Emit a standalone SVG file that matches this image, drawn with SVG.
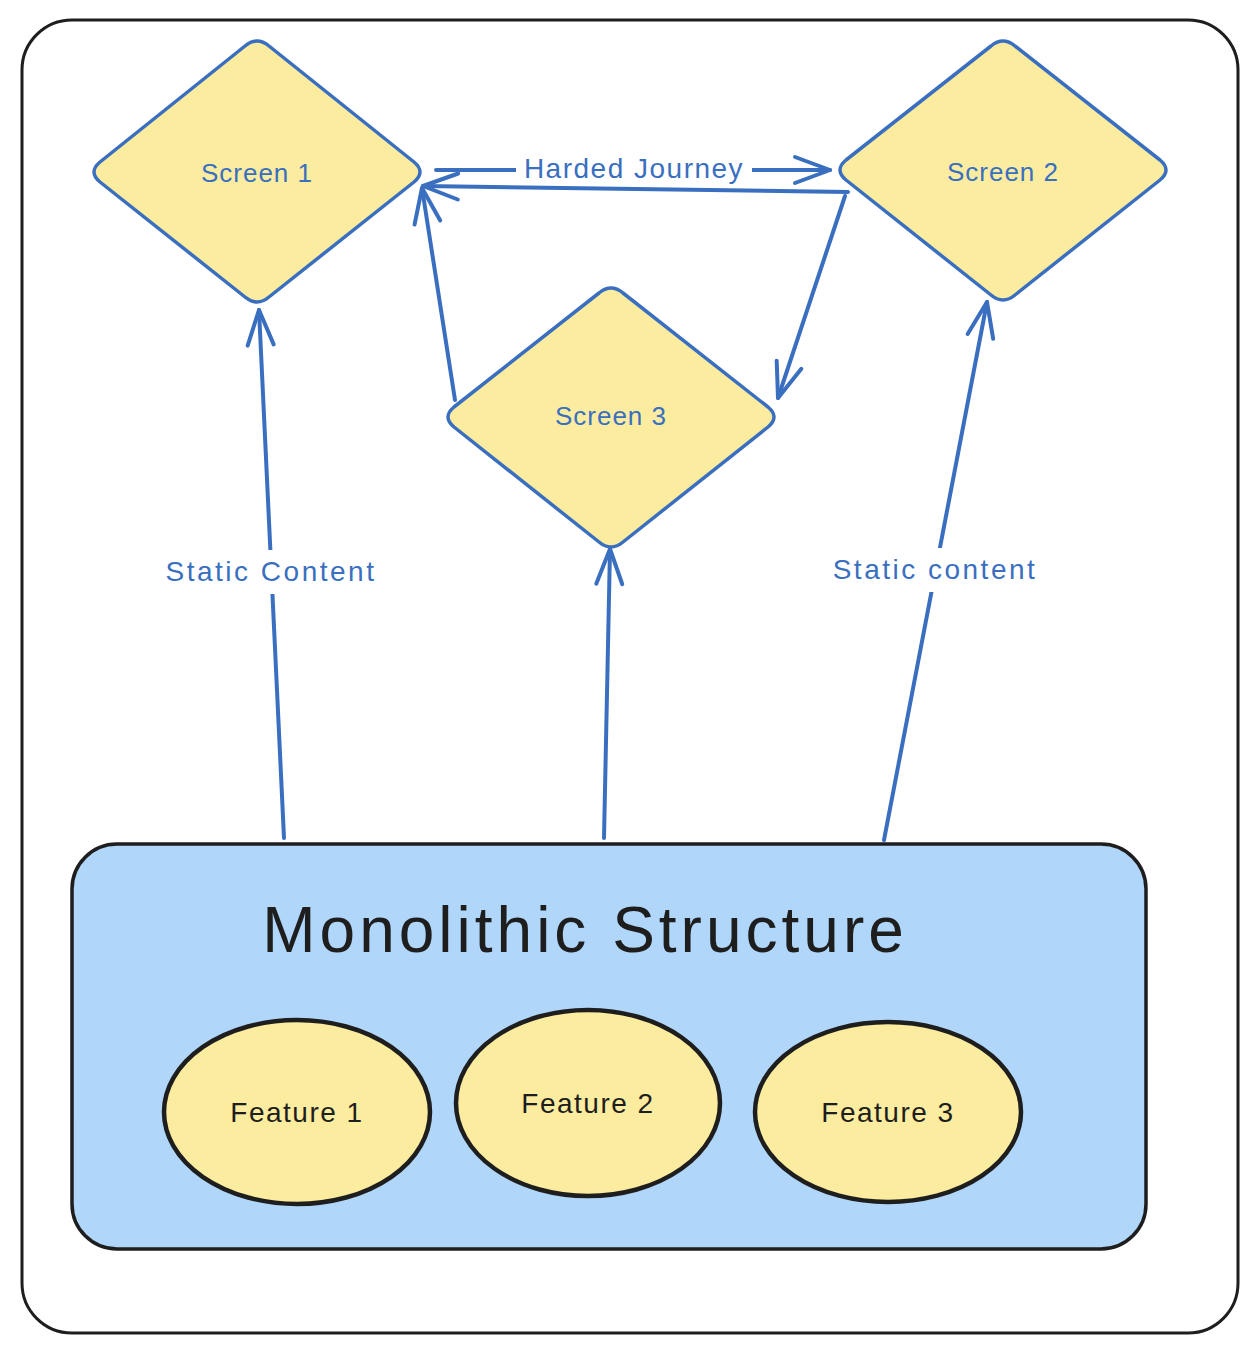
<svg xmlns="http://www.w3.org/2000/svg" width="1256" height="1354" viewBox="0 0 1256 1354">
<defs>
<style>
.frame{fill:#ffffff;stroke:#1e1e1e;stroke-width:3}
.scr{fill:#fcec9f;stroke:#3a6fc0;stroke-width:3.5;stroke-linejoin:round}
.stxt{font-family:"Liberation Sans","Noto Sans",sans-serif;font-size:26px;letter-spacing:1px;fill:#3a6fc0;text-anchor:middle;dominant-baseline:central}
.ltxt{font-family:"Liberation Sans","Noto Sans",sans-serif;font-size:28px;letter-spacing:2.5px;fill:#3a6fc0;text-anchor:middle;dominant-baseline:central}
.mono{fill:#b0d6fa;stroke:#1e1e1e;stroke-width:3.5}
.feat{fill:#fcec9f;stroke:#1e1e1e;stroke-width:4.5}
.ftxt{font-family:"Liberation Sans","Noto Sans",sans-serif;font-size:28px;letter-spacing:1.5px;fill:#1e1e1e;text-anchor:middle;dominant-baseline:central}
.title{font-family:"Liberation Sans","Noto Sans",sans-serif;font-size:64px;letter-spacing:4px;fill:#1e1e1e;text-anchor:middle;dominant-baseline:central}
.conn{fill:none;stroke:#3a6fc0;stroke-width:4;stroke-linecap:round;stroke-linejoin:round}
.lblbg{fill:#ffffff}
</style>
<marker id="ah" viewBox="0 0 42 32" refX="39" refY="16" markerWidth="42" markerHeight="32" markerUnits="userSpaceOnUse" orient="auto">
<path d="M4,3 L39,16 L4,29" fill="none" stroke="#3a6fc0" stroke-width="4" stroke-linecap="round" stroke-linejoin="round"/>
</marker>
</defs>
<rect id="frame" class="frame" x="22" y="20" width="1216" height="1313" rx="50"/>

<g id="monolith">
<rect class="mono" x="72" y="844" width="1074" height="405" rx="45"/>
<text class="title" x="585" y="930">Monolithic Structure</text>
</g>
<g id="feature1">
<ellipse class="feat" cx="297" cy="1112" rx="133" ry="92"/>
<text class="ftxt" x="297" y="1112">Feature 1</text>
</g>
<g id="feature2">
<ellipse class="feat" cx="588" cy="1103" rx="132" ry="93"/>
<text class="ftxt" x="588" y="1103">Feature 2</text>
</g>
<g id="feature3">
<ellipse class="feat" cx="888" cy="1112" rx="133" ry="90"/>
<text class="ftxt" x="888" y="1112">Feature 3</text>
</g>

<g id="screen1">
<path class="scr" d="M245,46 Q257,36 269,46 L414,162 Q426,172 414,182 L269,297 Q257,307 245,297 L100,182 Q88,172 100,162 Z"/>
<text class="stxt" x="257" y="173">Screen 1</text>
</g>
<g id="screen2">
<path class="scr" d="M991,46 Q1003,36 1015,46 L1160,160 Q1172,170 1160,180 L1015,295 Q1003,305 991,295 L846,180 Q834,170 846,160 Z"/>
<text class="stxt" x="1003" y="172">Screen 2</text>
</g>
<g id="screen3">
<path class="scr" d="M599,293 Q611,283 623,293 L768,407 Q780,417 768,427 L623,542 Q611,552 599,542 L454,427 Q442,417 454,407 Z"/>
<text class="stxt" x="611" y="416">Screen 3</text>
</g>

<g id="connectors">
<path class="conn" d="M284,838 L259,310" marker-end="url(#ah)"/>
<path class="conn" d="M604,838 L610,549" marker-end="url(#ah)"/>
<path class="conn" d="M884,840 L987,302" marker-end="url(#ah)"/>
<path class="conn" d="M436,170 L830,170" marker-end="url(#ah)"/>
<path class="conn" d="M848,192 L423,186" marker-end="url(#ah)"/>
<path class="conn" d="M455,400 L422,188" marker-end="url(#ah)"/>
<path class="conn" d="M845,196 L778,398" marker-end="url(#ah)"/>
<rect class="lblbg" x="158" y="550" width="226" height="44"/>
<text class="ltxt" x="271" y="571">Static Content</text>
<rect class="lblbg" x="822" y="548" width="224" height="44"/>
<text class="ltxt" x="935" y="569">Static content</text>
<rect class="lblbg" x="516" y="153" width="236" height="28"/>
<text class="ltxt" x="634" y="168" style="letter-spacing:1.5px">Harded Journey</text>
</g>
</svg>
